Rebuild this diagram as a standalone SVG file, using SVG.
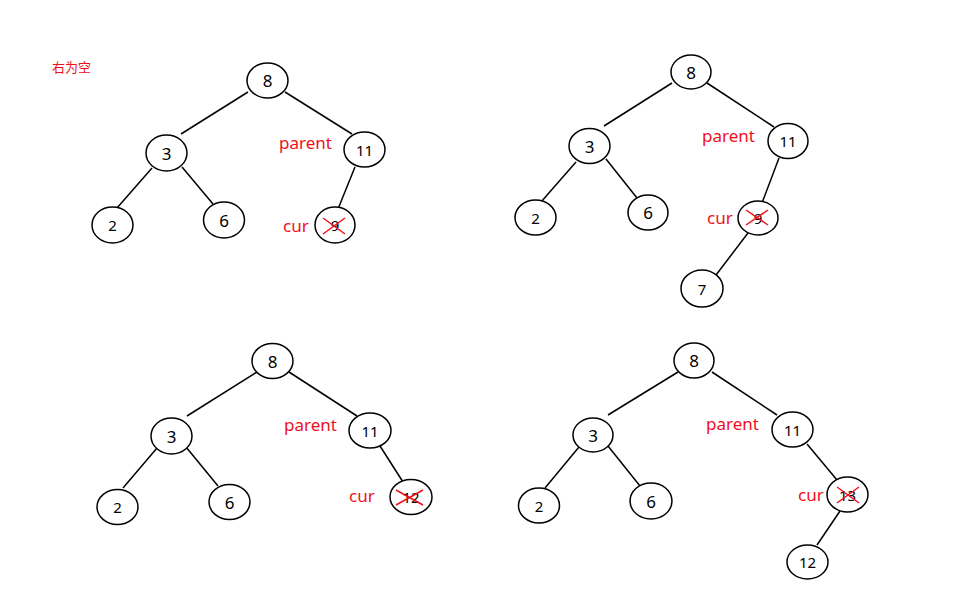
<svg xmlns="http://www.w3.org/2000/svg" width="958" height="593" viewBox="0 0 958 593">
<style>
.n ellipse{fill:#fff;stroke:#000;stroke-width:1.5}
.n text{font-family:"Noto Sans","Open Sans",sans-serif;fill:#000;text-anchor:middle;dominant-baseline:central}
.big{font-size:17px}
.sm{font-size:15px}
.e line{stroke:#000;stroke-width:1.5}
.lbl{font-family:"Noto Sans","Noto Sans CJK SC",sans-serif;fill:#f0101c;font-size:17px}
.x line{stroke:#f0101c;stroke-width:1.5}
</style>
<rect width="958" height="593" fill="#fff"/>
<text class="lbl" x="52" y="72" style="font-size:13px">右为空</text>

<g id="connectors" class="e">
<line x1="248" y1="92" x2="181" y2="134"/>
<line x1="285" y1="92" x2="352" y2="134"/>
<line x1="152" y1="168" x2="117" y2="208"/>
<line x1="182" y1="167" x2="213" y2="204"/>
<line x1="355" y1="167" x2="338" y2="209"/>

<line x1="672" y1="83" x2="604" y2="126"/>
<line x1="707" y1="83" x2="774" y2="127"/>
<line x1="576" y1="162" x2="541" y2="202"/>
<line x1="606" y1="159" x2="637" y2="198"/>
<line x1="779" y1="158" x2="762" y2="203"/>
<line x1="748" y1="233" x2="716" y2="275"/>

<line x1="257" y1="372" x2="187" y2="416"/>
<line x1="289" y1="372" x2="357" y2="416"/>
<line x1="157" y1="448" x2="123" y2="488"/>
<line x1="186" y1="447" x2="218" y2="486"/>
<line x1="380" y1="446" x2="403" y2="482"/>

<line x1="678" y1="372" x2="608" y2="415"/>
<line x1="712" y1="372" x2="777" y2="415"/>
<line x1="579" y1="447" x2="545" y2="488"/>
<line x1="608" y1="446" x2="640" y2="486"/>
<line x1="807" y1="444" x2="837" y2="480"/>
<line x1="840" y1="511" x2="817" y2="545"/>
</g>

<!-- Tree 1 -->
<g id="t1-8" class="n"><ellipse cx="267.5" cy="80.5" rx="20.5" ry="17.5"/><text class="big" x="267.5" y="80.5">8</text></g>
<g id="t1-3" class="n"><ellipse cx="166.5" cy="153" rx="20.5" ry="18"/><text class="big" x="166.5" y="153">3</text></g>
<g id="t1-11" class="n"><ellipse cx="364.5" cy="149.5" rx="20.5" ry="17.5"/><text class="sm" x="364.5" y="149.5">11</text></g>
<g id="t1-2" class="n"><ellipse cx="112.5" cy="225" rx="20.5" ry="18"/><text class="sm" x="112.5" y="225">2</text></g>
<g id="t1-6" class="n"><ellipse cx="224" cy="220" rx="20.5" ry="18"/><text class="big" x="224" y="220">6</text></g>
<g id="t1-9" class="n"><ellipse cx="335" cy="225" rx="20" ry="18"/><text class="sm" x="335" y="225">9</text></g>
<g class="x"><line x1="323" y1="218" x2="345" y2="234"/><line x1="323" y1="234" x2="345" y2="218"/></g>
<text class="lbl" x="279" y="149">parent</text>
<text class="lbl" x="283" y="232">cur</text>

<!-- Tree 2 -->
<g id="t2-8" class="n"><ellipse cx="691" cy="72" rx="20" ry="17"/><text class="big" x="691" y="72">8</text></g>
<g id="t2-3" class="n"><ellipse cx="589.5" cy="146" rx="20.5" ry="17.5"/><text class="big" x="589.5" y="146">3</text></g>
<g id="t2-11" class="n"><ellipse cx="788" cy="141" rx="20" ry="17.5"/><text class="sm" x="788" y="141">11</text></g>
<g id="t2-2" class="n"><ellipse cx="535.5" cy="217.5" rx="20.5" ry="17.5"/><text class="sm" x="535.5" y="217.5">2</text></g>
<g id="t2-6" class="n"><ellipse cx="648" cy="212.5" rx="20" ry="17.5"/><text class="big" x="648" y="212.5">6</text></g>
<g id="t2-9" class="n"><ellipse cx="758" cy="218" rx="20" ry="17"/><text class="sm" x="758" y="218">9</text></g>
<g id="t2-7" class="n"><ellipse cx="702" cy="288.5" rx="21" ry="18.5"/><text class="sm" x="702" y="288.5">7</text></g>
<g class="x"><line x1="746" y1="210" x2="768" y2="225"/><line x1="746" y1="225" x2="768" y2="210"/></g>
<text class="lbl" x="702" y="142">parent</text>
<text class="lbl" x="707" y="224">cur</text>

<!-- Tree 3 -->
<g id="t3-8" class="n"><ellipse cx="272.5" cy="361" rx="20.5" ry="17.5"/><text class="big" x="272.5" y="361">8</text></g>
<g id="t3-3" class="n"><ellipse cx="171.5" cy="436" rx="20.5" ry="18"/><text class="big" x="171.5" y="436">3</text></g>
<g id="t3-11" class="n"><ellipse cx="370" cy="430.5" rx="21" ry="17.5"/><text class="sm" x="370" y="430.5">11</text></g>
<g id="t3-2" class="n"><ellipse cx="117.5" cy="507" rx="20.5" ry="17.5"/><text class="sm" x="117.5" y="507">2</text></g>
<g id="t3-6" class="n"><ellipse cx="229.5" cy="502" rx="20.5" ry="17.5"/><text class="big" x="229.5" y="502">6</text></g>
<g id="t3-12" class="n"><ellipse cx="411" cy="497" rx="21" ry="17.5"/><text class="sm" x="411" y="497">12</text></g>
<g class="x"><line x1="396" y1="490" x2="423" y2="505"/><line x1="396" y1="505" x2="423" y2="490"/></g>
<text class="lbl" x="284" y="431">parent</text>
<text class="lbl" x="349" y="502">cur</text>

<!-- Tree 4 -->
<g id="t4-8" class="n"><ellipse cx="694" cy="360.5" rx="20" ry="17.5"/><text class="big" x="694" y="360.5">8</text></g>
<g id="t4-3" class="n"><ellipse cx="593" cy="435" rx="20" ry="17"/><text class="big" x="593" y="435">3</text></g>
<g id="t4-11" class="n"><ellipse cx="792.5" cy="429.5" rx="20.5" ry="17.5"/><text class="sm" x="792.5" y="429.5">11</text></g>
<g id="t4-2" class="n"><ellipse cx="539" cy="505.5" rx="20.5" ry="17.5"/><text class="sm" x="539" y="505.5">2</text></g>
<g id="t4-6" class="n"><ellipse cx="651" cy="501" rx="21" ry="18"/><text class="big" x="651" y="501">6</text></g>
<g id="t4-13" class="n"><ellipse cx="847.5" cy="494.5" rx="20.5" ry="17.5"/><text class="sm" x="847.5" y="494.5">13</text></g>
<g id="t4-12" class="n"><ellipse cx="807.5" cy="562" rx="20.5" ry="17"/><text class="sm" x="807.5" y="562">12</text></g>
<g class="x"><line x1="837" y1="487" x2="859" y2="503"/><line x1="837" y1="503" x2="859" y2="487"/></g>
<text class="lbl" x="706" y="430">parent</text>
<text class="lbl" x="798" y="501">cur</text>
</svg>
